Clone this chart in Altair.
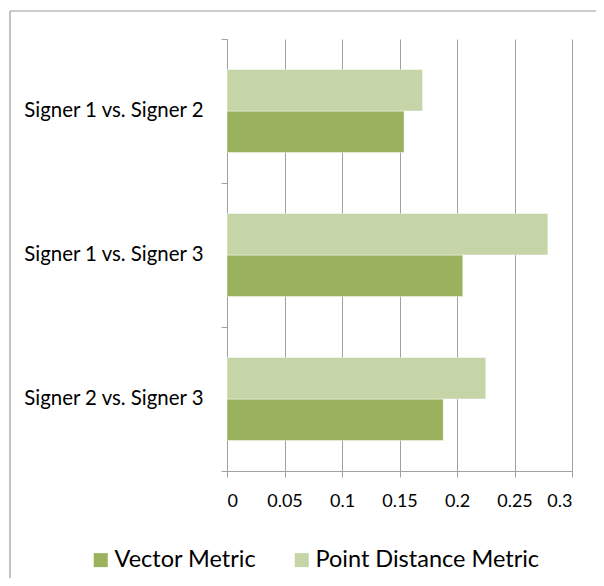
import altair as alt
import pandas as pd

pairs = ["Signer 1 vs. Signer 2", "Signer 1 vs. Signer 3", "Signer 2 vs. Signer 3"]
vector_metric = [0.154, 0.205, 0.188]
point_distance_metric = [0.170, 0.279, 0.225]
series_names = ["Vector Metric", "Point Distance Metric"]
series_colors = ["#9AB25E", "#C6D5A8"]
x_ticks = [0, 0.05, 0.1, 0.15, 0.2, 0.25, 0.3]

rows = []
for p, v, d in zip(pairs, vector_metric, point_distance_metric):
    rows.append({"pair": p, "series": series_names[0], "value": v})
    rows.append({"pair": p, "series": series_names[1], "value": d})
df = pd.DataFrame(rows)

FONT = "Lato"
GRID = "#A0A0A0"

bars = alt.Chart(df).mark_bar(stroke="#ffffff", strokeWidth=0.6, strokeOpacity=0.7).encode(
    x=alt.X("value:Q",
            scale=alt.Scale(domain=[0, 0.3], nice=False),
            axis=alt.Axis(values=x_ticks, format="~g", title=None, grid=True,
                          gridColor=GRID, domainColor=GRID, tickColor=GRID,
                          tickSize=6, labelPadding=15, labelFontSize=18,
                          labelFont=FONT, labelColor="#000000")),
    y=alt.Y("pair:N", sort=pairs,
            scale=alt.Scale(paddingInner=0, paddingOuter=0),
            axis=alt.Axis(title=None, ticks=False, tickSize=0, domain=False,
                          labelPadding=24, labelFontSize=20.4, labelFont=FONT,
                          labelColor="#000000", orient="left", labelLimit=0)),
    yOffset=alt.YOffset("series:N", sort=["Point Distance Metric", "Vector Metric"],
                        scale=alt.Scale(paddingInner=0, paddingOuter=0.735)),
    color=alt.Color("series:N",
                    scale=alt.Scale(domain=series_names, range=series_colors),
                    legend=alt.Legend(title=None, orient="none", direction="horizontal",
                                      legendX=-138, legendY=509,
                                      symbolType="square", symbolSize=196,
                                      symbolStrokeWidth=0, labelFontSize=23.5,
                                      labelFont=FONT, labelColor="#000000",
                                      labelOffset=2, columnPadding=33,
                                      labelLimit=0)),
)

yticks = alt.Chart(pd.DataFrame({"a": [0]})).mark_point(opacity=0).encode(
    y=alt.YDatum(0, type="quantitative",
                 scale=alt.Scale(domain=[0, 3], nice=False),
                 axis=alt.Axis(values=[0, 1, 2, 3], labels=False, ticks=True,
                               tickSize=6, tickColor=GRID, domain=True,
                               domainColor=GRID, grid=False, title=None,
                               orient="left"))
)

frame_data = pd.DataFrame({"a": [0]})
frame_top = alt.Chart(frame_data).mark_rule(color="#999999", strokeWidth=1.2, clip=False).encode(
    x=alt.value(-217), x2=alt.value(369), y=alt.value(-28)
)
frame_left = alt.Chart(frame_data).mark_rule(color="#999999", strokeWidth=1.2, clip=False).encode(
    x=alt.value(-217), y=alt.value(-28), y2=alt.value(539)
)

chart = alt.layer(frame_top, frame_left, bars, yticks).resolve_scale(y="independent").properties(
    width=345, height=432,
    autosize=alt.AutoSizeParams(type="none"),
    padding={"left": 219, "top": 31, "right": 24, "bottom": 107},
    background="white",
).configure_view(stroke=None)

chart.save("out.html", embed_options={"renderer": "svg", "actions": False})
